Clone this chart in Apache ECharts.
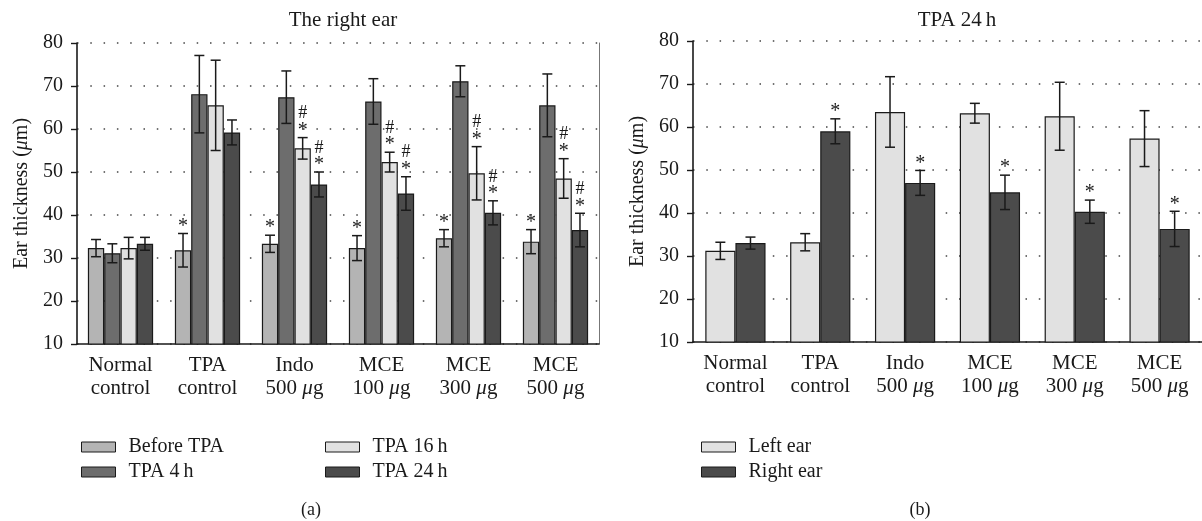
<!DOCTYPE html>
<html>
<head>
<meta charset="utf-8">
<script src="https://cdn.jsdelivr.net/npm/echarts@6/dist/echarts.min.js"></script>
<style>
  html, body { margin: 0; padding: 0; background: #fff; }
  #chart { width: 1202px; height: 521px; }
</style>
</head>
<body>
<div id="chart"></div>
<script>
const categories = ["Normal\ncontrol", "TPA\ncontrol", "Indo\n500 μg", "MCE\n100 μg", "MCE\n300 μg", "MCE\n500 μg"];
const yTicks = [10, 20, 30, 40, 50, 60, 70, 80];

// panel (a): the right ear over time
const beforeTPA = [32.3, 31.8, 33.3, 32.3, 34.6, 33.8];
const beforeTPAErr = [2.0, 3.9, 2.0, 2.9, 2.0, 2.8];
const beforeTPAMarks = ["", "*", "*", "*", "*", "*"];
const tpa4h = [31.1, 68.1, 67.4, 66.4, 71.1, 65.5];
const tpa4hErr = [2.2, 9.0, 6.1, 5.3, 3.6, 7.3];
const tpa4hMarks = ["", "", "", "", "", ""];
const tpa16h = [32.3, 65.5, 55.5, 52.3, 49.7, 48.5];
const tpa16hErr = [2.5, 10.5, 2.5, 2.3, 6.2, 4.6];
const tpa16hMarks = ["", "", "#*", "#*", "#*", "#*"];
const tpa24h = [33.3, 59.2, 47.1, 45.0, 40.5, 36.5];
const tpa24hErr = [1.5, 2.9, 2.9, 3.9, 2.8, 3.9];
const tpa24hMarks = ["", "", "#*", "#*", "#*", "#*"];

// panel (b): TPA 24 h, left vs right ear
const leftEar = [31.2, 33.2, 63.5, 63.2, 62.5, 57.3];
const leftEarErr = [2.0, 2.0, 8.2, 2.3, 7.9, 6.5];
const leftEarMarks = ["", "", "", "", "", ""];
const rightEar = [33.0, 59.0, 47.0, 44.8, 40.3, 36.3];
const rightEarErr = [1.4, 2.9, 2.9, 4.0, 2.7, 4.1];
const rightEarMarks = ["", "*", "*", "*", "*", "*"];

const FONT = "Liberation Serif";
const INK = "#1a1a1a";
const rich = { i: { fontStyle: "italic", fontFamily: FONT, fontSize: 21, color: INK } };
const richY = { i: { fontStyle: "italic", fontFamily: FONT, fontSize: 20, color: INK } };

function xAxisFor(gi) {
  return {
    gridIndex: gi,
    type: "category",
    data: categories,
    axisLine: { lineStyle: { color: INK, width: 1.6 } },
    axisTick: { alignWithLabel: true, length: 7, lineStyle: { color: INK, width: 1.4 } },
    axisLabel: {
      interval: 0,
      color: INK, fontFamily: FONT, fontSize: 21, lineHeight: 23, margin: 10,
      formatter: v => v.replace("μ", "{i|μ}"), rich
    }
  };
}

function yAxisFor(gi) {
  return {
    gridIndex: gi,
    type: "value",
    min: 10, max: 80, interval: 10,
    name: "Ear thickness ({i|μ}m)",
    nameLocation: "middle",
    nameGap: 45,
    nameTextStyle: { color: INK, fontFamily: FONT, fontSize: 20, rich: richY },
    axisLine: { show: true, lineStyle: { color: INK, width: 1.6 } },
    axisTick: { show: true, inside: false, length: 6, lineStyle: { color: INK, width: 1.4 } },
    axisLabel: { color: INK, fontFamily: FONT, fontSize: 20, margin: 14,
      formatter: v => yTicks.includes(v) ? String(v) : "" },
    splitLine: { lineStyle: { color: "#444", width: 1.6, type: [1.5, 11.8] } }
  };
}

function barSeries(name, gi, vals, color) {
  return {
    name, type: "bar", xAxisIndex: gi, yAxisIndex: gi,
    data: vals, barGap: "0%", barCategoryGap: gi === 0 ? "25%" : "29%",
    itemStyle: { color, borderColor: INK, borderWidth: 1.2 },
    z: 2
  };
}

// error bar + significance marks drawn on the same category scale
function errSeries(gi, idx, n, gap, vals, errs, marks) {
  return {
    type: "custom", xAxisIndex: gi, yAxisIndex: gi, z: 5, silent: true,
    data: vals.map((v, i) => [i, v, errs[i]]),
    renderItem: (params, api) => {
      const ci = api.value(0), v = api.value(1), e = api.value(2);
      const band = api.size([1, 0])[0];
      const bw = band * (1 - gap) / n;
      const x = api.coord([ci, v])[0] - band * (1 - gap) / 2 + bw * (idx + 0.5);
      const top = api.coord([ci, v + e])[1];
      const bot = api.coord([ci, v - e])[1];
      const st = { stroke: INK, lineWidth: 1.5 };
      const kids = [
        { type: "line", shape: { x1: x, y1: top, x2: x, y2: bot }, style: st },
        { type: "line", shape: { x1: x - 5, y1: top, x2: x + 5, y2: top }, style: st },
        { type: "line", shape: { x1: x - 5, y1: bot, x2: x + 5, y2: bot }, style: st }
      ];
      const m = marks[params.dataIndex];
      if (m.includes("*")) {
        kids.push({ type: "text", style: { text: "*", x, y: top + 3, fill: INK,
          font: "20px " + FONT, textAlign: "center", textVerticalAlign: "bottom" } });
      }
      if (m.includes("#")) {
        kids.push({ type: "text", style: { text: "#", x, y: top - 15, fill: INK,
          font: "18px " + FONT, textAlign: "center", textVerticalAlign: "bottom" } });
      }
      return { type: "group", children: kids };
    }
  };
}

const legendBase = {
  orient: "vertical", itemGap: 5, itemWidth: 34, itemHeight: 10, icon: "rect",
  top: 432,
  itemStyle: { borderColor: INK, borderWidth: 1 },
  textStyle: { color: INK, fontFamily: FONT, fontSize: 20, padding: [0, 0, 0, 8] },
  selectedMode: false
};

const chart = echarts.init(document.getElementById("chart"));
chart.setOption({
  backgroundColor: "#fff",
  animation: false,
  title: [
    { text: "The right ear", left: 338, top: 5, textAlign: "center",
      textStyle: { color: INK, fontFamily: FONT, fontSize: 21, fontWeight: "normal" } },
    { text: "TPA 24\u2009h", left: 952, top: 5, textAlign: "center",
      textStyle: { color: INK, fontFamily: FONT, fontSize: 21, fontWeight: "normal" } },
    { text: "(a)", left: 306, top: 496, textAlign: "center",
      textStyle: { color: INK, fontFamily: FONT, fontSize: 18, fontWeight: "normal" } },
    { text: "(b)", left: 915, top: 496, textAlign: "center",
      textStyle: { color: INK, fontFamily: FONT, fontSize: 18, fontWeight: "normal" } }
  ],
  legend: [
    Object.assign({}, legendBase, { left: 76, data: ["Before TPA", "TPA 4\u2009h"] }),
    Object.assign({}, legendBase, { left: 320, data: ["TPA 16\u2009h", "TPA 24\u2009h"] }),
    Object.assign({}, legendBase, { left: 696, data: ["Left ear", "Right ear"] })
  ],
  grid: [
    { left: 77, top: 43, width: 522, height: 301 },
    { left: 693, top: 41, width: 519, height: 301 }
  ],
  xAxis: [xAxisFor(0), xAxisFor(1)],
  yAxis: [
    yAxisFor(0),
    yAxisFor(1),
    { gridIndex: 0, type: "value", min: 10, max: 80, position: "right",
      axisLine: { show: true, lineStyle: { color: "#777", width: 1 } },
      axisTick: { show: false }, axisLabel: { show: false }, splitLine: { show: false } }
  ],
  series: [
    barSeries("Before TPA", 0, beforeTPA, "#b4b4b4"),
    barSeries("TPA 4\u2009h", 0, tpa4h, "#6d6d6d"),
    barSeries("TPA 16\u2009h", 0, tpa16h, "#e1e1e1"),
    barSeries("TPA 24\u2009h", 0, tpa24h, "#4b4b4b"),
    barSeries("Left ear", 1, leftEar, "#e1e1e1"),
    barSeries("Right ear", 1, rightEar, "#4b4b4b"),
    errSeries(0, 0, 4, 0.25, beforeTPA, beforeTPAErr, beforeTPAMarks),
    errSeries(0, 1, 4, 0.25, tpa4h, tpa4hErr, tpa4hMarks),
    errSeries(0, 2, 4, 0.25, tpa16h, tpa16hErr, tpa16hMarks),
    errSeries(0, 3, 4, 0.25, tpa24h, tpa24hErr, tpa24hMarks),
    errSeries(1, 0, 2, 0.29, leftEar, leftEarErr, leftEarMarks),
    errSeries(1, 1, 2, 0.29, rightEar, rightEarErr, rightEarMarks)
  ]
});
</script>
</body>
</html>
